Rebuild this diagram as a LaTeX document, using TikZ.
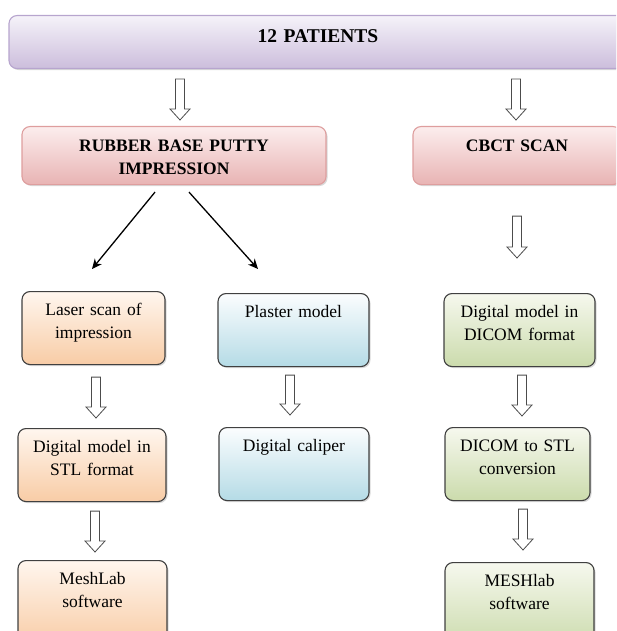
\documentclass[tikz,border=0pt]{standalone}
\usepackage{fontspec}
\setmainfont{Liberation Serif}
\usetikzlibrary{arrows.meta,shadows,calc}
\definecolor{lilactop}{HTML}{F5F2F9}
\definecolor{lilacbot}{HTML}{CCBEDC}
\definecolor{lilacline}{HTML}{B7A5CE}
\definecolor{rosetop}{HTML}{FCEDED}
\definecolor{rosebot}{HTML}{E8B3B3}
\definecolor{roseline}{HTML}{DE9E9E}
\definecolor{peachtop}{HTML}{FFF6EE}
\definecolor{peachbot}{HTML}{F8CCA6}
\definecolor{skytop}{HTML}{FBFDFE}
\definecolor{skybot}{HTML}{B5DBE6}
\definecolor{sagetop}{HTML}{F6F8EE}
\definecolor{sagebot}{HTML}{CBDBAC}

\begin{document}
\begin{tikzpicture}[x=1pt, y=-1pt,
        card/.style={draw=black!75, line width=1.1pt, rounded corners=8pt, anchor=north,
            inner sep=0pt, align=center, text height=24pt, text depth=49pt,
            font=\fontsize{17.5}{23}\selectfont,
            drop shadow={shadow xshift=1.5pt, shadow yshift=-1.5pt, opacity=0.3}},
        head/.style={card, font=\fontsize{17.5}{23}\selectfont\bfseries,
            text height=25pt, text depth=33pt},
        lilac/.style={draw=lilacline, top color=lilactop, bottom color=lilacbot},
        rose/.style={draw=roseline, top color=rosetop, bottom color=rosebot},
        peach/.style={top color=peachtop, bottom color=peachbot},
        sky/.style={top color=skytop, bottom color=skybot},
        sage/.style={top color=sagetop, bottom color=sagebot},
        hollow/.style={draw=black!70, line width=0.8pt, fill=white,
            to path={let \p1=(\tikztostart), \p2=(\tikztotarget) in
                (\x2-4.5pt,\y1) -- (\x2+4.5pt,\y1) -- (\x2+4.5pt,\y2+11pt) -- (\x2+10pt,\y2+11pt)
                -- (\x2,\y2) -- (\x2-10pt,\y2+11pt) -- (\x2-4.5pt,\y2+11pt) -- cycle}},
        split/.style={-{Stealth[length=10pt,width=9pt]}, line width=1.3pt}
    ]
        \useasboundingbox (0,0) rectangle (616,631);
        \clip (0,0) rectangle (616,631);

        \node[head, lilac, text width=618pt, text height=27pt, text depth=26pt,
            font=\fontsize{19.5}{23}\selectfont\bfseries] (patients) at (318,15) {12 PATIENTS};
        \node[head, rose, text width=304pt] (putty) at (174,126) {RUBBER BASE PUTTY\\IMPRESSION};
        \node[head, rose, text width=208pt] (cbct) at (517,126) {CBCT SCAN};

        \node[card, peach, text width=143pt] (laser) at (93.5,291) {Laser scan of\\impression};
        \node[card, sky, text width=151pt] (plaster) at (293.5,293) {Plaster model};
        \node[card, sage, text width=151pt] (dicom) at (519.5,293) {Digital model in\\DICOM format};
        \node[card, peach, text width=148pt] (stl) at (92,428) {Digital model in\\STL format};
        \node[card, sky, text width=150pt] (caliper) at (294,427) {Digital caliper};
        \node[card, sage, text width=145pt] (convert) at (517.5,427) {DICOM to STL\\conversion};
        \node[card, peach, text width=149pt, text depth=61pt] (meshlab) at (92.5,560) {MeshLab\\software};
        \node[card, sage, text width=149pt, text depth=61pt] (meshlabb) at (519.5,562) {MESHlab\\software};

        \draw[hollow] ([yshift=-10pt]patients.south) to ([xshift=6pt,yshift=6pt]putty.north);
        \draw[hollow] ([yshift=-10pt]patients.south) to ([xshift=-1pt,yshift=6pt]cbct.north);
        \draw[hollow] ([yshift=-31pt]cbct.south) to ([xshift=-2.5pt,yshift=35pt]dicom.north);
        \draw[hollow] ([yshift=-12pt]laser.south) to ([xshift=4pt,yshift=10pt]stl.north);
        \draw[hollow] ([yshift=-8pt]plaster.south) to ([xshift=-4pt,yshift=12pt]caliper.north);
        \draw[hollow] ([yshift=-8pt]dicom.south) to ([xshift=4.5pt,yshift=11pt]convert.north);
        \draw[hollow] ([yshift=-9pt]stl.south) to ([xshift=2.5pt,yshift=8pt]meshlab.north);
        \draw[hollow] ([yshift=-8pt]convert.south) to ([xshift=3.5pt,yshift=12pt]meshlabb.north);

        \draw[split] ([xshift=-19pt,yshift=-7pt]putty.south) -- ([xshift=-1.5pt,yshift=22pt]laser.north);
        \draw[split] ([xshift=15pt,yshift=-7pt]putty.south) -- ([xshift=-35.5pt,yshift=24pt]plaster.north);
    \end{tikzpicture}
\end{document}
